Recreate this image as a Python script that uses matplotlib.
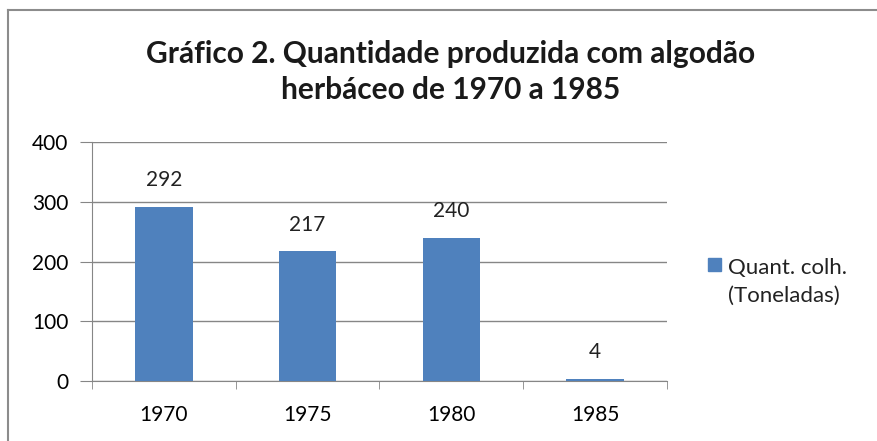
import matplotlib.pyplot as plt
import matplotlib.patches as mpatches
import numpy as np

anos = ['1970', '1975', '1980', '1985']
quantidade = [292, 217, 240, 4]
yticks = [0, 100, 200, 300, 400]
serie = 'Quant. colh.\n(Toneladas)'
cor = '#4f81bd'

plt.rcParams['font.family'] = ['Lato', 'DejaVu Sans']

fig = plt.figure(figsize=(8.77, 4.41), dpi=100)
# chart area border (only left and top visible)
fig.add_artist(plt.Line2D([8/877, 8/877], [0, 1 - 10/441], color='#8c8c8c', lw=1.5))
fig.add_artist(plt.Line2D([8/877, 1], [1 - 10/441, 1 - 10/441], color='#8c8c8c', lw=1.5))

ax = fig.add_axes([92/877, 1 - 381/441, (667 - 92)/877, (381 - 142)/441])
x = np.arange(len(anos))
barras = ax.bar(x, quantidade, width=0.4, color=cor, zorder=3)
for xi, v in zip(x, quantidade):
    ax.text(xi, v + 44, str(v), ha='center', va='center', fontsize=15, color='#222222')

ax.set_xlim(-0.5, 3.5)
ax.set_ylim(0, 400)
ax.set_yticks(yticks)
ax.set_yticklabels([str(t) for t in yticks], fontsize=15)
ax.set_xticks(x)
ax.set_xticklabels(anos, fontsize=15)
ax.set_xticks(np.arange(-0.5, 4, 1), minor=True)
ax.tick_params(axis='x', which='major', length=0, pad=17)
ax.tick_params(axis='x', which='minor', length=6, color='#868686')
ax.tick_params(axis='y', length=9, color='#868686', pad=8)
ax.grid(axis='y', color='#868686', lw=1, zorder=0)
for s in ['top', 'right']:
    ax.spines[s].set_visible(False)
for s in ['left', 'bottom']:
    ax.spines[s].set_color('#868686')

fig.text(451/877, 1 - 72/441, 'Gráfico 2. Quantidade produzida com algodão\nherbáceo de 1970 a 1985',
         ha='center', va='center', fontsize=21.5, fontweight='bold', linespacing=1.35, color='#1a1a1a')

# legend: square marker aligned with first line of the label
fig.add_artist(mpatches.Rectangle((708/877, 1 - 271/441), 13/877, 13/441, color=cor,
                                  transform=fig.transFigure))
fig.text(728/877, 1 - 258/441, serie, ha='left', va='top', fontsize=16,
         linespacing=1.5, color='#222222')

fig.savefig('out.png', dpi=100)
